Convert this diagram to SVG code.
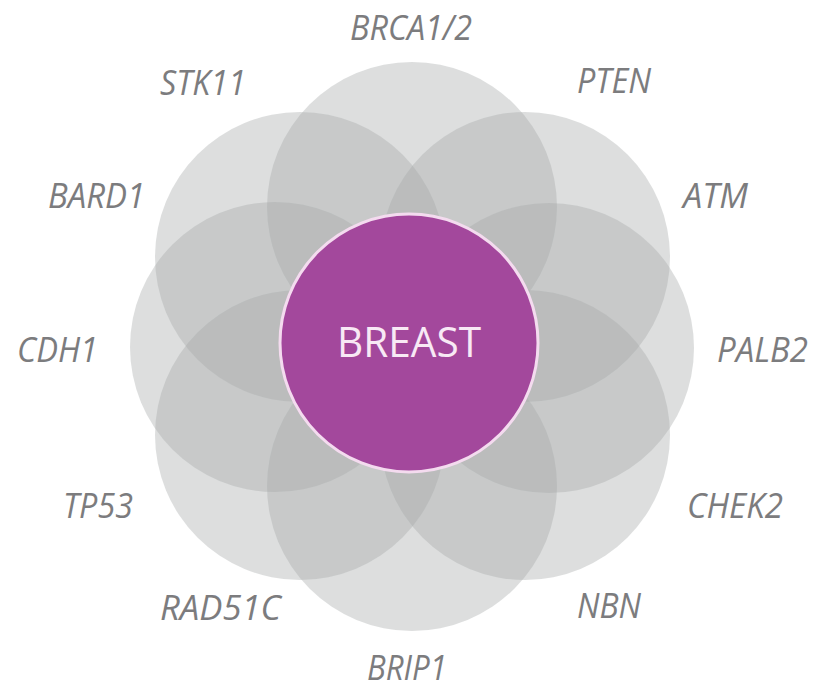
<svg xmlns="http://www.w3.org/2000/svg" width="826" height="691" viewBox="0 0 826 691">
<style>
.petal{fill:#a5a7a9;fill-opacity:0.38}
.lbl{font-family:"Open Sans","DejaVu Sans",sans-serif;font-style:italic;font-size:35px;fill:#7c7c7e;text-anchor:start}
.core{fill:#a3489c;stroke:#f4dbef;stroke-width:3}
.coretxt{font-family:"Open Sans","DejaVu Sans",sans-serif;font-size:42px;fill:#f8e9f5;text-anchor:middle}
</style>
<rect width="826" height="691" fill="#ffffff"/>
<g id="petals">
<g id="petal-top"><circle class="petal" cx="412" cy="207" r="145"/></g>
<g id="petal-upper-right"><circle class="petal" cx="525" cy="257" r="145"/></g>
<g id="petal-right"><circle class="petal" cx="549" cy="348" r="145"/></g>
<g id="petal-lower-right"><circle class="petal" cx="525" cy="435" r="145"/></g>
<g id="petal-bottom"><circle class="petal" cx="412" cy="486" r="145"/></g>
<g id="petal-lower-left"><circle class="petal" cx="300" cy="435" r="145"/></g>
<g id="petal-left"><circle class="petal" cx="275" cy="347" r="145"/></g>
<g id="petal-upper-left"><circle class="petal" cx="300" cy="257" r="145"/></g>
</g>
<g id="breast">
<circle class="core" cx="409" cy="343" r="129"/>
<text class="coretxt" x="409" y="357" textLength="144" lengthAdjust="spacingAndGlyphs">BREAST</text>
</g>
<g id="labels">
<g id="lbl-brca"><text class="lbl" x="350" y="40" textLength="122" lengthAdjust="spacingAndGlyphs">BRCA1/2</text></g>
<g id="lbl-stk11"><text class="lbl" x="160" y="95" textLength="86" lengthAdjust="spacingAndGlyphs">STK11</text></g>
<g id="lbl-pten"><text class="lbl" x="577" y="93" textLength="74" lengthAdjust="spacingAndGlyphs">PTEN</text></g>
<g id="lbl-bard1"><text class="lbl" x="48" y="208" textLength="97" lengthAdjust="spacingAndGlyphs">BARD1</text></g>
<g id="lbl-atm"><text class="lbl" x="683" y="208" textLength="65" lengthAdjust="spacingAndGlyphs">ATM</text></g>
<g id="lbl-cdh1"><text class="lbl" x="17" y="362" textLength="81" lengthAdjust="spacingAndGlyphs">CDH1</text></g>
<g id="lbl-palb2"><text class="lbl" x="717" y="362" textLength="91" lengthAdjust="spacingAndGlyphs">PALB2</text></g>
<g id="lbl-tp53"><text class="lbl" x="63" y="518" textLength="70" lengthAdjust="spacingAndGlyphs">TP53</text></g>
<g id="lbl-chek2"><text class="lbl" x="687" y="518" textLength="96" lengthAdjust="spacingAndGlyphs">CHEK2</text></g>
<g id="lbl-rad51c"><text class="lbl" x="160" y="620" textLength="121" lengthAdjust="spacingAndGlyphs">RAD51C</text></g>
<g id="lbl-nbn"><text class="lbl" x="577" y="618" textLength="64" lengthAdjust="spacingAndGlyphs">NBN</text></g>
<g id="lbl-brip1"><text class="lbl" x="367" y="680" font-size="32" textLength="80" lengthAdjust="spacingAndGlyphs">BRIP1</text></g>
</g>
</svg>
